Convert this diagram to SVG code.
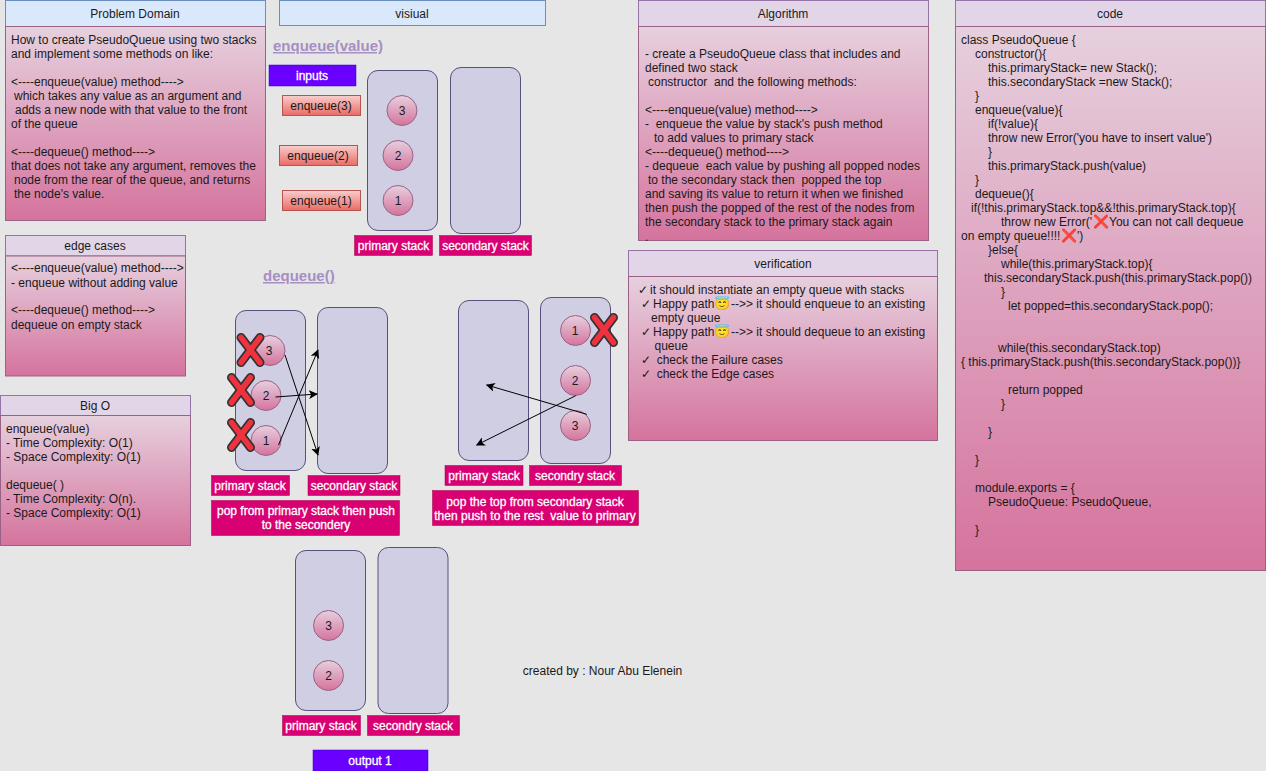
<svg xmlns="http://www.w3.org/2000/svg" width="1266" height="771" viewBox="0 0 1266 771">
<style>
text{font-family:"Liberation Sans",Arial,sans-serif;font-size:12px;fill:#1a1a1a;white-space:pre}
.c{text-anchor:middle}
.hb{fill:#dae8fc;stroke:#6c8ebf}
.hp{fill:#e1d5e7;stroke:#9673a6}
.body{fill:url(#pink);stroke:#996185}
.stack{fill:#d0cee2;stroke:#56517e}
.circ{fill:url(#pink);stroke:#996185}
.enq{fill:url(#red);stroke:#b85450}
.lab{fill:#d80073;stroke:#a50040;stroke-width:.5}
.vio{fill:#6a00ff;stroke:#3700cc;stroke-width:.5}
.w{fill:#fff;stroke:#fff;stroke-width:.3}
.title{fill:#a68fc2;font-weight:bold;font-size:15px;text-decoration:underline}
.conn{fill:none;stroke:#000;stroke-width:1;marker-end:url(#arrow)}
.emo{font-family:"Noto Color Emoji","DejaVu Sans",sans-serif;font-size:13px}
</style>
<defs>
<linearGradient id="pink" x1="0" y1="0" x2="0" y2="1"><stop offset="0" stop-color="#e6d0de"/><stop offset="1" stop-color="#d5739d"/></linearGradient>
<linearGradient id="red" x1="0" y1="0" x2="0" y2="1"><stop offset="0" stop-color="#f8cecc"/><stop offset="1" stop-color="#ea6b66"/></linearGradient>
<marker id="arrow" viewBox="0 0 10 10" refX="9" refY="5" markerWidth="9" markerHeight="9" markerUnits="userSpaceOnUse" orient="auto"><path d="M0 0L10 5L0 10L2.500 5Z" fill="#000"/></marker>
<g id="cross"><path d="M-9.500 -12.500L9.500 12.500M9.500 -12.500L-9.500 12.500" fill="none" stroke="#333" stroke-width="9" stroke-linecap="round"/><path d="M-9.500 -12.500L9.500 12.500M9.500 -12.500L-9.500 12.500" fill="none" stroke="#f0323f" stroke-width="5.500" stroke-linecap="round"/></g>
</defs>
<rect width="1266" height="771" fill="#e6e6e6"/>

<g id="problem-domain">
<rect class="hb" x="5.500" y="0.500" width="260" height="26"/>
<rect class="body" x="5.500" y="26.500" width="260" height="194"/>
<text class="c" x="135" y="18">Problem Domain</text>
<text x="11" y="44">How to create PseudoQueue using two stacks</text>
<text x="11" y="58">and implement some methods on like:</text>
<text x="11" y="86">&lt;----enqueue(value) method----&gt;</text>
<text x="14" y="100">which takes any value as an argument and</text>
<text x="15" y="114">adds a new node with that value to the front</text>
<text x="11" y="128">of the queue</text>
<text x="11" y="156">&lt;----dequeue() method----&gt;</text>
<text x="11" y="170">that does not take any argument, removes the</text>
<text x="14" y="184">node from the rear of the queue, and returns</text>
<text x="14" y="198">the node's value.</text>
</g>

<g id="edge-cases">
<rect class="hp" x="5.500" y="235.500" width="180" height="20.500"/>
<rect class="body" x="5.500" y="256" width="180" height="120"/>
<text class="c" x="95" y="250">edge cases</text>
<text x="11" y="272">&lt;----enqueue(value) method----&gt;</text>
<text x="11" y="287">- enqueue without adding value</text>
<text x="11" y="314">&lt;----dequeue() method----&gt;</text>
<text x="11" y="329">dequeue on empty stack</text>
</g>

<g id="big-o">
<rect class="hp" x="0.500" y="395.500" width="190" height="20"/>
<rect class="body" x="0.500" y="415.500" width="190" height="130"/>
<text class="c" x="95" y="410">Big O</text>
<text x="6" y="433">enqueue(value)</text>
<text x="6" y="447">- Time Complexity: O(1)</text>
<text x="6" y="461">- Space Complexity: O(1)</text>
<text x="6" y="489">dequeue( )</text>
<text x="6" y="503">- Time Complexity: O(n).</text>
<text x="6" y="517">- Space Complexity: O(1)</text>
</g>

<g id="visual-header">
<rect class="hb" x="279.500" y="0.500" width="266" height="25"/>
<text class="c" x="412" y="18">visiual</text>
</g>

<g id="enqueue-section">
<text class="title" x="273" y="51">enqueue(value)</text>
<rect class="vio" x="269" y="65" width="87" height="21"/>
<text class="c w" x="312" y="80">inputs</text>
<rect class="enq" x="282.500" y="95.500" width="78" height="20"/>
<text class="c" x="321" y="110">enqueue(3)</text>
<rect class="enq" x="279.500" y="145.500" width="78" height="20"/>
<text class="c" x="318" y="160">enqueue(2)</text>
<rect class="enq" x="282.500" y="190.500" width="78" height="20"/>
<text class="c" x="321" y="205">enqueue(1)</text>
<rect class="stack" x="367.500" y="70.500" width="70" height="160" rx="10.500"/>
<rect class="stack" x="450.500" y="67.500" width="70" height="166" rx="10.500"/>
<circle class="circ" cx="402" cy="110.500" r="15"/><text class="c" x="402" y="115">3</text>
<circle class="circ" cx="398" cy="155.500" r="15"/><text class="c" x="398" y="160">2</text>
<circle class="circ" cx="398" cy="200.500" r="15"/><text class="c" x="398" y="205">1</text>
<rect class="lab" x="354.500" y="235.500" width="78" height="20"/>
<text class="c w" x="393.500" y="250">primary stack</text>
<rect class="lab" x="439.500" y="235.500" width="92" height="20"/>
<text class="c w" x="485.500" y="250">secondary stack</text>
</g>

<g id="dequeue-pop">
<text class="title" x="263" y="281">dequeue()</text>
<rect class="stack" x="235.500" y="310.500" width="70" height="160" rx="10.500"/>
<rect class="stack" x="317.500" y="307.500" width="70" height="166" rx="10.500"/>
<circle class="circ" cx="270" cy="350.500" r="15"/><text class="c" x="269" y="355">3</text>
<circle class="circ" cx="266" cy="395.500" r="15"/><text class="c" x="266" y="400">2</text>
<circle class="circ" cx="266" cy="440.500" r="15"/><text class="c" x="266" y="445">1</text>
<use href="#cross" x="250.500" y="350"/>
<use href="#cross" x="241" y="390"/>
<use href="#cross" x="241" y="435"/>
<rect class="lab" x="211.500" y="475.500" width="78" height="20"/>
<text class="c w" x="250" y="490">primary stack</text>
<rect class="lab" x="308" y="475.500" width="92" height="20"/>
<text class="c w" x="354" y="490">secondary stack</text>
<rect class="lab" x="211.500" y="500.500" width="188" height="35"/>
<text class="c w" x="306" y="515">pop from primary stack then push</text>
<text class="c w" x="306" y="529">to the secondery</text>
</g>

<g id="dequeue-push">
<rect class="stack" x="458.500" y="300.500" width="70" height="160" rx="10.500"/>
<rect class="stack" x="540.500" y="297.500" width="70" height="166" rx="10.500"/>
<circle class="circ" cx="575.500" cy="330.500" r="15"/><text class="c" x="575" y="335">1</text>
<circle class="circ" cx="575.500" cy="380.500" r="15"/><text class="c" x="575" y="385">2</text>
<circle class="circ" cx="575.500" cy="425.500" r="15"/><text class="c" x="575" y="430">3</text>
<use href="#cross" x="604" y="330"/>
<rect class="lab" x="445" y="465.500" width="78" height="20"/>
<text class="c w" x="484" y="480">primary stack</text>
<rect class="lab" x="529.500" y="465.500" width="92" height="20"/>
<text class="c w" x="575" y="480">secondry stack</text>
<rect class="lab" x="432.500" y="490.500" width="206" height="35"/>
<text class="c w" x="535" y="506">pop the top from secondary stack</text>
<text class="c w" x="535" y="520">then push to the rest  value to primary</text>
</g>

<g id="output">
<rect class="stack" x="295.500" y="550.500" width="70" height="160" rx="10.500"/>
<rect class="stack" x="378" y="547.500" width="70" height="166" rx="10.500"/>
<circle class="circ" cx="328.500" cy="625.500" r="15"/><text class="c" x="328.500" y="630">3</text>
<circle class="circ" cx="328.500" cy="675.500" r="15"/><text class="c" x="328.500" y="680">2</text>
<rect class="lab" x="282.500" y="715.500" width="78" height="20"/>
<text class="c w" x="321" y="730">primary stack</text>
<rect class="lab" x="367.500" y="715.500" width="92" height="20"/>
<text class="c w" x="413" y="730">secondry stack</text>
<rect class="vio" x="313" y="750" width="115" height="21"/>
<text class="c w" x="370" y="765">output 1</text>
</g>

<g id="connectors">
<path class="conn" d="M285 355L318 455"/>
<path class="conn" d="M275.500 397L317 394"/>
<path class="conn" d="M278.500 445L318 350"/>
<path class="conn" d="M586.700 414.300L486.700 385"/>
<path class="conn" d="M575.700 395.700L476.700 445"/>
</g>

<g id="algorithm">
<rect class="hp" x="638.500" y="0.500" width="290" height="26"/>
<rect class="body" x="638.500" y="26.500" width="290" height="214"/>
<text class="c" x="783" y="18">Algorithm</text>
<text x="645" y="58">- create a PseudoQueue class that includes and</text>
<text x="645" y="72">defined two stack</text>
<text x="648" y="86">constructor  and the following methods:</text>
<text x="645" y="114">&lt;----enqueue(value) method----&gt;</text>
<text x="645" y="128">-  enqueue the value by stack's push method</text>
<text x="654" y="142">to add values to primary stack</text>
<text x="645" y="156">&lt;----dequeue() method----&gt;</text>
<text x="645" y="170">- dequeue  each value by pushing all popped nodes</text>
<text x="648" y="184">to the secondary stack then  popped the top</text>
<text x="645" y="198">and saving its value to return it when we finished</text>
<text x="645" y="212">then push the popped of the rest of the nodes from</text>
<text x="645" y="226">the secondary stack to the primary stack again</text>
<text x="645" y="241">.</text>
</g>

<g id="verification">
<rect class="hp" x="628.500" y="250.500" width="309" height="26"/>
<rect class="body" x="628.500" y="276.500" width="309" height="164"/>
<text class="c" x="783" y="268">verification</text>
<text x="638" y="293.500">✓<tspan x="646.700"> it should instantiate an empty queue with stacks</tspan></text>
<text x="641" y="307.500">✓<tspan x="649.700"> Happy path</tspan><tspan class="emo" x="714.500">😇</tspan><tspan x="731">--&gt;&gt; it should enqueue to an existing</tspan></text>
<text x="651" y="321.500">empty queue</text>
<text x="641" y="335.500">✓<tspan x="649.700"> Happy path</tspan><tspan class="emo" x="714.500">😇</tspan><tspan x="731">--&gt;&gt; it should dequeue to an existing</tspan></text>
<text x="654.500" y="349.500">queue</text>
<text x="641" y="363.500">✓<tspan x="650">  check the Failure cases</tspan></text>
<text x="641" y="377.500">✓<tspan x="650">  check the Edge cases</tspan></text>
</g>

<g id="code">
<rect class="hp" x="955.500" y="0.500" width="310" height="26"/>
<rect class="body" x="955.500" y="26.500" width="310" height="544"/>
<text class="c" x="1110" y="18">code</text>
<text x="961" y="44">class PseudoQueue {</text>
<text x="975" y="58">constructor(){</text>
<text x="988" y="72">this.primaryStack= new Stack();</text>
<text x="988" y="86">this.secondaryStack =new Stack();</text>
<text x="975" y="100">}</text>
<text x="975" y="114">enqueue(value){</text>
<text x="988" y="128">if(!value){</text>
<text x="988" y="142">throw new Error('you have to insert value')</text>
<text x="988" y="156">}</text>
<text x="988" y="170">this.primaryStack.push(value)</text>
<text x="975" y="184">}</text>
<text x="975" y="198">dequeue(){</text>
<text x="971" y="212">if(!this.primaryStack.top&amp;&amp;!this.primaryStack.top){</text>
<text x="1001" y="226">throw new Error('<tspan class="emo" x="1093.500">❌</tspan><tspan x="1109">You can not call dequeue</tspan></text>
<text x="961" y="240">on empty queue!!!!<tspan class="emo" x="1061.500">❌</tspan><tspan x="1077">')</tspan></text>
<text x="988" y="254">}else{</text>
<text x="1001" y="268">while(this.primaryStack.top){</text>
<text x="984" y="282">this.secondaryStack.push(this.primaryStack.pop())</text>
<text x="1001" y="296">}</text>
<text x="1008" y="310">let popped=this.secondaryStack.pop();</text>
<text x="998" y="352">while(this.secondaryStack.top)</text>
<text x="961" y="366">{ this.primaryStack.push(this.secondaryStack.pop())}</text>
<text x="1008" y="394">return popped</text>
<text x="1001" y="408">}</text>
<text x="988" y="436">}</text>
<text x="975" y="464">}</text>
<text x="975" y="492">module.exports = {</text>
<text x="988" y="506">PseudoQueue: PseudoQueue,</text>
<text x="975" y="534">}</text>
</g>

<g id="credit">
<text class="c" x="602.500" y="675">created by : Nour Abu Elenein</text>
</g>
</svg>
